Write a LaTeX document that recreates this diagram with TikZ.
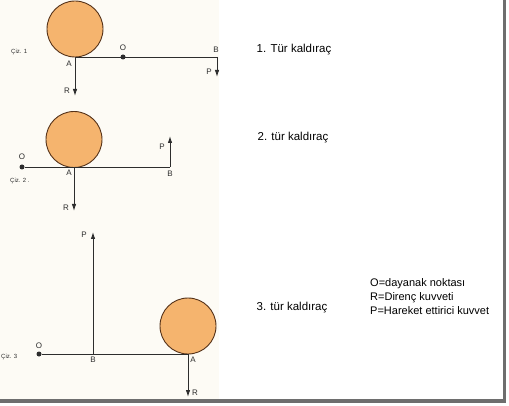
\documentclass[tikz,border=0pt]{standalone}
\usepackage{fontspec}
\setmainfont{Liberation Sans}
\usetikzlibrary{arrows.meta}
\definecolor{scan}{RGB}{253,251,245}
\definecolor{ballfill}{RGB}{245,180,110}
\definecolor{balledge}{RGB}{85,50,25}
\definecolor{ink}{RGB}{45,45,45}
\definecolor{frame}{RGB}{110,110,110}

\begin{document}
\begin{tikzpicture}[x=1pt,y=-1pt,
   lever/.style={draw=ink,line width=0.9pt},
   force/.style={draw=ink,line width=0.9pt,-{Latex[length=7pt,width=4.5pt]}},
   ball/.style={circle,fill=ballfill,draw=balledge,line width=0.9pt,minimum size=56pt,inner sep=0pt},
   fulcrum/.style={circle,fill=ink,inner sep=0pt,minimum size=5pt},
   lbl/.style={font=\fontsize{8}{9}\selectfont,text=ink,inner sep=0pt},
   ciz/.style={font=\fontsize{6}{7}\selectfont,text=ink,inner sep=0pt,anchor=west},
   kind/.style={font=\fontsize{11.5}{13}\selectfont,inner sep=0pt}]
   \useasboundingbox (0,0) rectangle (509,406);
   \fill[scan] (0,0) rectangle (219,399);
   \fill[frame] (503,0) rectangle (506,403);
   \fill[frame] (0,399) rectangle (506,403);

   % first kind
   \coordinate (A1) at (75,57);
   \coordinate (B1) at (217,57);
   \coordinate (R1) at (75,96);
   \coordinate (P1) at (217,77);
   \node[ball] (ball1) at (75,29) {};
   \draw[lever] (A1) -- (B1);
   \draw[force] (A1) -- (R1);
   \draw[force] (B1) -- (P1);
   \node[fulcrum] (O1) at (123,57) {};
   \node[ciz] (ciz1) at (11,52) {Çiz. 1};
   \node[lbl] (lO1) at (123,48) {O};
   \node[lbl] (lA1) at (69,64) {A};
   \node[lbl] (lB1) at (216,50) {B};
   \node[lbl] (lP1) at (209,72) {P};
   \node[lbl] (lR1) at (67,91) {R};

   % second kind
   \coordinate (A2) at (74,167);
   \coordinate (B2) at (170,167);
   \coordinate (R2) at (74,211);
   \coordinate (P2) at (170,136);
   \node[ball] (ball2) at (74,139.5) {};
   \node[fulcrum] (O2) at (22,167) {};
   \draw[lever] (O2) -- (B2);
   \draw[force] (A2) -- (R2);
   \draw[force] (B2) -- (P2);
   \node[ciz] (ciz2) at (10,181) {Çiz. 2 .};
   \node[lbl] (lO2) at (22,157) {O};
   \node[lbl] (lA2) at (69,173) {A};
   \node[lbl] (lB2) at (170,174) {B};
   \node[lbl] (lP2) at (162,147) {P};
   \node[lbl] (lR2) at (66,208) {R};

   % third kind
   \coordinate (A3) at (188,354);
   \coordinate (B3) at (93,354);
   \coordinate (R3) at (188,397);
   \coordinate (P3) at (93,232);
   \node[ball] (ball3) at (188,326) {};
   \node[fulcrum] (O3) at (39,354) {};
   \draw[lever] (O3) -- (A3);
   \draw[force] (A3) -- (R3);
   \draw[force] (B3) -- (P3);
   \node[ciz] (ciz3) at (1,357) {Çiz. 3};
   \node[lbl] (lO3) at (39,346) {O};
   \node[lbl] (lB3) at (93,360) {B};
   \node[lbl] (lA3) at (193,360) {A};
   \node[lbl] (lP3) at (84,235) {P};
   \node[lbl] (lR3) at (195,393) {R};

   % captions
   \node[kind] (k1) at (294,50) {1. Tür kaldıraç};
   \node[kind] (k2) at (293,138) {2. tür kaldıraç};
   \node[kind] (k3) at (292,308) {3. tür kaldıraç};
   \node[kind,anchor=north west,align=left,font=\fontsize{11}{14}\selectfont]
      (legend) at (370,278) {O=dayanak noktası\\R=Direnç kuvveti\\P=Hareket ettirici kuvvet};
\end{tikzpicture}
\end{document}
